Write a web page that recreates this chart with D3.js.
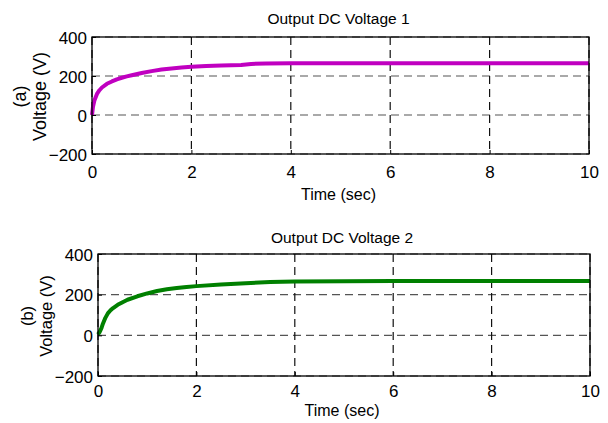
<!DOCTYPE html>
<html>
<head>
<meta charset="utf-8">
<script src="https://cdn.jsdelivr.net/npm/d3@7"></script>
<style>
  body { margin: 0; background: #fff; }
  text { font-family: "Liberation Sans", Arial, sans-serif; fill: #000; }
</style>
</head>
<body>
<div id="chart"></div>
<script>
// values
var timeTicks = [0, 2, 4, 6, 8, 10];
var voltTicks = [-200, 0, 200, 400];

var t1 = [0, 0.02, 0.05, 0.1, 0.15, 0.2, 0.3, 0.4, 0.5, 0.6, 0.7, 0.8, 1.0, 1.2, 1.4, 1.6, 1.8, 2.0, 2.3, 2.6, 3.0, 3.2, 3.5, 4, 5, 6, 7, 8, 9, 10];
var v1 = [0, 42, 76, 108, 127, 141, 160, 172, 183, 191, 198, 204, 215, 225, 233, 239, 243, 247, 251, 254, 257, 262, 264, 265, 265, 265, 265, 265, 265, 265];

var t2 = [0, 0.03, 0.07, 0.1, 0.15, 0.2, 0.25, 0.3, 0.4, 0.5, 0.6, 0.8, 1.0, 1.2, 1.4, 1.6, 1.8, 2.0, 2.5, 3.0, 3.5, 4, 5, 6, 7, 8, 9, 10];
var v2 = [5, 15, 35, 57, 86, 108, 122, 133, 150, 163, 175, 192, 206, 218, 227, 233, 238, 242, 250, 256, 262, 265, 266, 267, 267, 267, 267, 267];

var panels = [
	{ title: "Output DC Voltage 1", tag: "(a)", t: t1, v: v1, colour: "#c000c0",
	  left: 92, right: 589, top: 37, bottom: 154, titleY: 24, tickY: 178, labelY: 200,
	  tagX: 26, ylabX: 46, ylabSize: 18 },
	{ title: "Output DC Voltage 2", tag: "(b)", t: t2, v: v2, colour: "#008000",
	  left: 98, right: 590, top: 254, bottom: 376, titleY: 243, tickY: 397, labelY: 416,
	  tagX: 33, ylabX: 52, ylabSize: 16.5 }
];

var svg = d3.select("#chart")
.append("svg")
.attr("width", 608)
.attr("height", 423);

var drawPanel = function(_p)	{
	var x = d3.scaleLinear().domain([0, 10]).range([_p.left, _p.right]);
	var y = d3.scaleLinear().domain([-200, 400]).range([_p.bottom, _p.top]);
	var g = svg.append("g");

	// grid
	g.selectAll(".hgrid").data(voltTicks).enter().append("line")
	.attr("x1", _p.left).attr("x2", _p.right)
	.attr("y1", function(_d) { return y(_d); })
	.attr("y2", function(_d) { return y(_d); })
	.style("stroke", "#555").style("stroke-width", 1.2)
	.style("stroke-dasharray", "8,5");

	g.selectAll(".vgrid").data(timeTicks).enter().append("line")
	.attr("y1", _p.top).attr("y2", _p.bottom)
	.attr("x1", function(_d) { return x(_d); })
	.attr("x2", function(_d) { return x(_d); })
	.style("stroke", "#111").style("stroke-width", 1.2)
	.style("stroke-dasharray", "8,5");

	// data line
	var pts = _p.t.map(function(_d, i) { return [_d, _p.v[i]]; });
	g.append("path")
	.datum(pts)
	.attr("d", d3.line().x(function(_d) { return x(_d[0]); }).y(function(_d) { return y(_d[1]); }))
	.style("fill", "none")
	.style("stroke", _p.colour)
	.style("stroke-width", 4)
	.style("stroke-linejoin", "round");

	// axes
	var xAxis = g.append("g")
	.attr("transform", "translate(0," + _p.bottom + ")")
	.call(d3.axisBottom(x).tickValues(timeTicks).tickSize(-4).tickPadding(0).tickFormat(d3.format("d")));
	xAxis.select(".domain").remove();
	xAxis.selectAll("text").attr("y", _p.tickY - _p.bottom).attr("dy", 0)
	.style("font-size", "17px");

	var yAxis = g.append("g")
	.attr("transform", "translate(" + _p.left + ",0)")
	.call(d3.axisLeft(y).tickValues(voltTicks).tickSize(-4).tickPadding(5));
	yAxis.select(".domain").remove();
	yAxis.selectAll("text").attr("dy", "0.36em").style("font-size", "17px");
	g.selectAll(".tick line").style("stroke", "#000");

	g.append("rect")
	.attr("x", _p.left).attr("y", _p.top)
	.attr("width", _p.right - _p.left).attr("height", _p.bottom - _p.top)
	.style("fill", "none").style("stroke", "#000").style("stroke-width", 1.3);

	// labels
	g.append("text")
	.attr("x", (_p.left + _p.right) / 2 - 2).attr("y", _p.titleY)
	.attr("text-anchor", "middle")
	.style("font-size", "15.5px")
	.text(_p.title);

	g.append("text")
	.attr("x", (_p.left + _p.right) / 2 - 2).attr("y", _p.labelY)
	.attr("text-anchor", "middle")
	.style("font-size", "16px")
	.text("Time (sec)");

	var cy = (_p.top + _p.bottom) / 2 + 1;
	g.append("text")
	.attr("transform", "translate(" + _p.tagX + "," + cy + ") rotate(-90)")
	.attr("text-anchor", "middle")
	.style("font-size", _p.ylabSize + "px")
	.text(_p.tag);

	g.append("text")
	.attr("transform", "translate(" + _p.ylabX + "," + cy + ") rotate(-90)")
	.attr("text-anchor", "middle")
	.style("font-size", _p.ylabSize + "px")
	.text("Voltage (V)");
}

panels.forEach(drawPanel);
</script>
</body>
</html>
